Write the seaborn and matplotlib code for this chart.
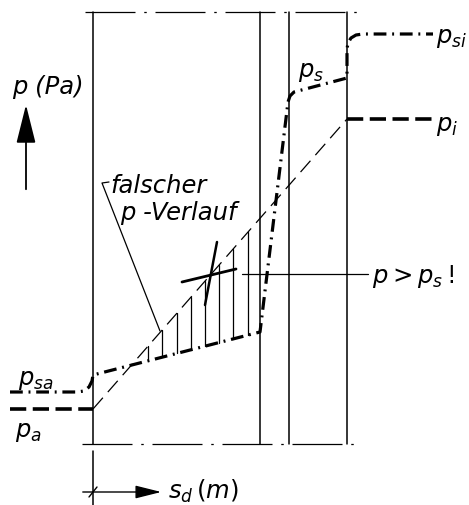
import numpy as np
import pandas as pd
import matplotlib
matplotlib.use('Agg')
import matplotlib.pyplot as plt
import seaborn as sns

# Glaser-type diagram, drawn in image units (x to the right, y downwards)
wall_x = [93, 260, 289, 347]
wall_top, wall_bottom = 13, 445

# saturation pressure p_s (thick dash-dot)
ps_x = [10, 77, 84, 89, 92, 93, 260, 288, 290, 294, 347, 347, 348, 351, 356, 363, 433]
ps_y = [393, 393, 392, 388, 382, 376, 333, 103, 97, 93, 79, 50, 44, 39, 36, 35, 35]

# outside / inside vapour pressure (thick dashed) and wrong linear course (thin dashed)
pa_x, pa_y = [10, 93], [410, 410]
pi_x, pi_y = [347, 433], [120, 120]
lin_x, lin_y = [93, 347], [410, 120]

# hatch positions where p > p_s
hatch_x = [148, 162, 177, 191, 205, 219, 233, 248]

# border dash-dot lines
top_x, top_y = [85, 362], [13, 13]
bot_x, bot_y = [82, 360], [445, 445]

sns.set_theme(style='white')
plt.rcParams['font.family'] = ['DejaVu Sans']
plt.rcParams['mathtext.fontset'] = 'dejavusans'
plt.rcParams['text.color'] = 'black'

fig = plt.figure(figsize=(4.69, 5.06), dpi=100)
ax = fig.add_axes([0, 0, 1, 1])
ax.set_xlim(0, 469)
ax.set_ylim(506, 0)
ax.axis('off')

def line(x, y, **kw):
    df = pd.DataFrame({'x': x, 'y': y})
    sns.lineplot(data=df, x='x', y='y', sort=False, estimator=None,
                 color='black', ax=ax, **kw)

# walls
for wx in wall_x:
    line([wx, wx], [wall_top, wall_bottom], lw=1.1)
line([93, 93], [452, 506], lw=1.1)
line(top_x, top_y, lw=0.9, linestyle=(0, (40, 7, 2, 7)))
line(bot_x, bot_y, lw=0.9, linestyle=(0, (40, 7, 2, 7)))

# curves
line(ps_x, ps_y, lw=2.3, linestyle=(0, (4, 1.8, 0.6, 1.8)))
line(pa_x, pa_y, lw=2.6, linestyle=(0, (4.5, 1.8)))
line(pi_x, pi_y, lw=2.6, linestyle=(0, (4.5, 1.8)))
line(lin_x, lin_y, lw=0.9, linestyle=(0, (12, 6)))

# hatching between p_s and wrong p course
for hx in hatch_x:
    y_low = np.interp(hx, ps_x[5:7], ps_y[5:7])
    y_up = np.interp(hx, lin_x, lin_y)
    line([hx, hx], [y_low, y_up], lw=0.9)

# crossing mark
line([182, 236], [283, 270], lw=2.0)
line([205, 217], [306, 243], lw=1.8)

# leader lines
line([109, 102, 160], [183, 184, 332], lw=0.9)
line([242, 368], [275, 275], lw=0.9)

fs = 17.5
ax.text(12, 87, 'p (Pa)', fontsize=fs, style='italic', va='center')
ax.annotate('', xy=(26, 103), xytext=(26, 193),
            arrowprops=dict(arrowstyle='-|>,head_length=1.2,head_width=0.3',
                            lw=1.3, color='black', mutation_scale=20))
ax.text(110, 186, 'falscher', fontsize=fs, style='italic', va='center')
ax.text(120, 213, 'p -Verlauf', fontsize=fs, style='italic', va='center')
ax.text(18, 380, r'$p_{sa}$', fontsize=fs, va='center')
ax.text(15, 432, r'$p_a$', fontsize=fs, va='center')
ax.text(298, 72, r'$p_s$', fontsize=fs, va='center')
ax.text(436, 38, r'$p_{si}$', fontsize=fs, va='center')
ax.text(436, 126, r'$p_i$', fontsize=fs, va='center')
ax.text(372, 277, r'$p > p_s\,!$', fontsize=fs, va='center')

# s_d axis arrow
ax.annotate('', xy=(164, 493), xytext=(80, 493),
            arrowprops=dict(arrowstyle='-|>,head_length=1.0,head_width=0.25',
                            lw=1.0, color='black', mutation_scale=16))
line([89, 97], [498, 488], lw=1.0)
ax.text(168, 491, r'$s_d\,(m)$', fontsize=fs, va='center')

fig.savefig('out.png', dpi=100)
